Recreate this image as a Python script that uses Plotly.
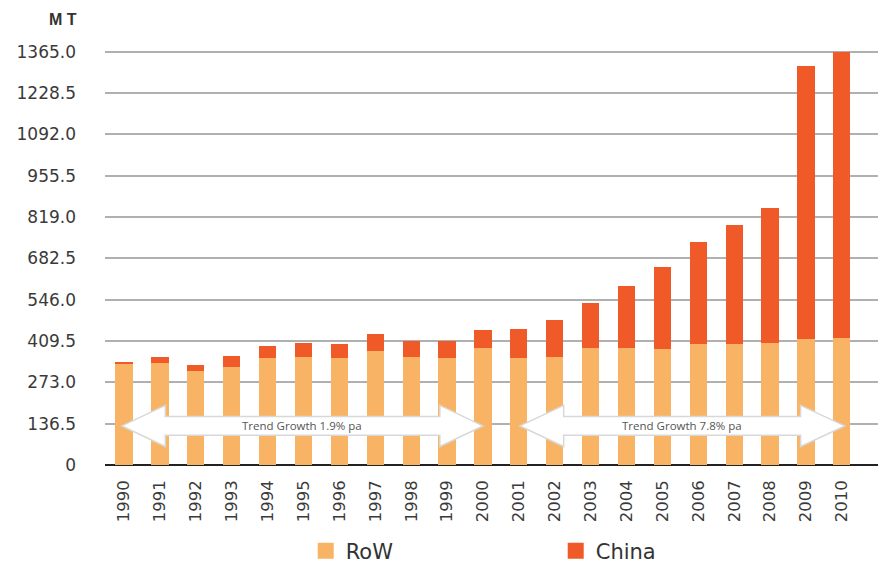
import plotly.graph_objects as go

years = list(range(1990, 2011))
row = [335, 338, 311, 323, 353, 358, 353, 377, 358, 353, 386,
       353, 358, 386, 386, 382, 400, 400, 404, 415, 421]
china = [5, 17, 20, 37, 40, 44, 46, 55, 50, 55, 61,
         97, 121, 150, 206, 272, 337, 393, 446, 901, 944]
tick_vals = [0, 136.5, 273.0, 409.5, 546.0, 682.5, 819.0, 955.5, 1092.0, 1228.5, 1365.0]
tick_text = ["0", "136.5", "273.0", "409.5", "546.0", "682.5", "819.0",
             "955.5", "1092.0", "1228.5", "1365.0"]

ROW_COLOR = "#F8B464"
CHINA_COLOR = "#F05A28"
FONT = "DejaVu Sans"

fig = go.Figure()
fig.add_trace(go.Bar(x=years, y=row, name="RoW", marker_color=ROW_COLOR,
                     marker_line_width=0, width=0.48, showlegend=False))
fig.add_trace(go.Bar(x=years, y=china, name="China", marker_color=CHINA_COLOR,
                     marker_line_width=0, width=0.48, showlegend=False))
# legend entries with larger square swatches
for name, color in [("RoW", ROW_COLOR), ("China", CHINA_COLOR)]:
    fig.add_trace(go.Scatter(x=[None], y=[None], mode="markers", name=name,
                             marker=dict(symbol="square", size=22, color=color),
                             hoverinfo="skip"))


def arrow(x0, x1, xh0, xh1, yc, shaft_h, head_h):
    s0, s1 = yc - shaft_h / 2, yc + shaft_h / 2
    h0, h1 = yc - head_h / 2, yc + head_h / 2
    return (f"M{x0},{yc} L{xh0},{h1} L{xh0},{s1} L{xh1},{s1} L{xh1},{h1} "
            f"L{x1},{yc} L{xh1},{h0} L{xh1},{s0} L{xh0},{s0} L{xh0},{h0} Z")


arrows = [
    (1989.94, 2000.0, 1991.15, 1998.8, "Trend Growth 1.9% pa"),
    (2001.03, 2010.08, 2002.25, 2008.85, "Trend Growth 7.8% pa"),
]
for x0, x1, xh0, xh1, label in arrows:
    fig.add_shape(type="path", xref="x", yref="y",
                  path=arrow(x0, x1, xh0, xh1, 129, 62, 136),
                  fillcolor="white", line=dict(color="#d8d8d8", width=1.5),
                  layer="above")
    fig.add_annotation(x=(x0 + x1) / 2, y=129, xref="x", yref="y", text=label,
                       showarrow=False,
                       font=dict(family="Open Sans", size=11.5, color="#555555"))

fig.add_annotation(x=-0.054, y=1.05, xref="paper", yref="paper", text="<b>M T</b>",
                   showarrow=False, xanchor="center", yanchor="middle",
                   font=dict(family="Liberation Sans", size=16, color="#333333"))

fig.update_layout(
    width=878, height=557,
    margin=dict(l=97, r=0, t=33, b=100),
    barmode="stack",
    plot_bgcolor="white", paper_bgcolor="white",
    font=dict(family=FONT, size=15, color="#333333"),
    xaxis=dict(range=[1989.47, 2011.23], tickvals=years, ticktext=[str(y) for y in years],
               tickangle=-90, showgrid=False, zeroline=False, showline=False,
               tickfont=dict(size=16.5, color="#3a3a3a"), ticks="", ticklabelstandoff=11,
               automargin=False),
    yaxis=dict(range=[0, 1400], tickvals=tick_vals, ticktext=tick_text,
               showgrid=True, gridcolor="#b0b0b0", gridwidth=1.5,
               zeroline=True, zerolinecolor="#222222", zerolinewidth=2,
               tickfont=dict(size=17, color="#3a3a3a"), ticks="", ticklabelstandoff=28,
               automargin=False),
    legend=dict(orientation="h", x=0.257, xanchor="left",
                yref="container", y=0.025, yanchor="middle",
                bgcolor="rgba(0,0,0,0)",
                font=dict(size=21, color="#333333"), entrywidth=205,
                entrywidthmode="pixels", traceorder="normal"),
)

fig.write_html("out.html")
